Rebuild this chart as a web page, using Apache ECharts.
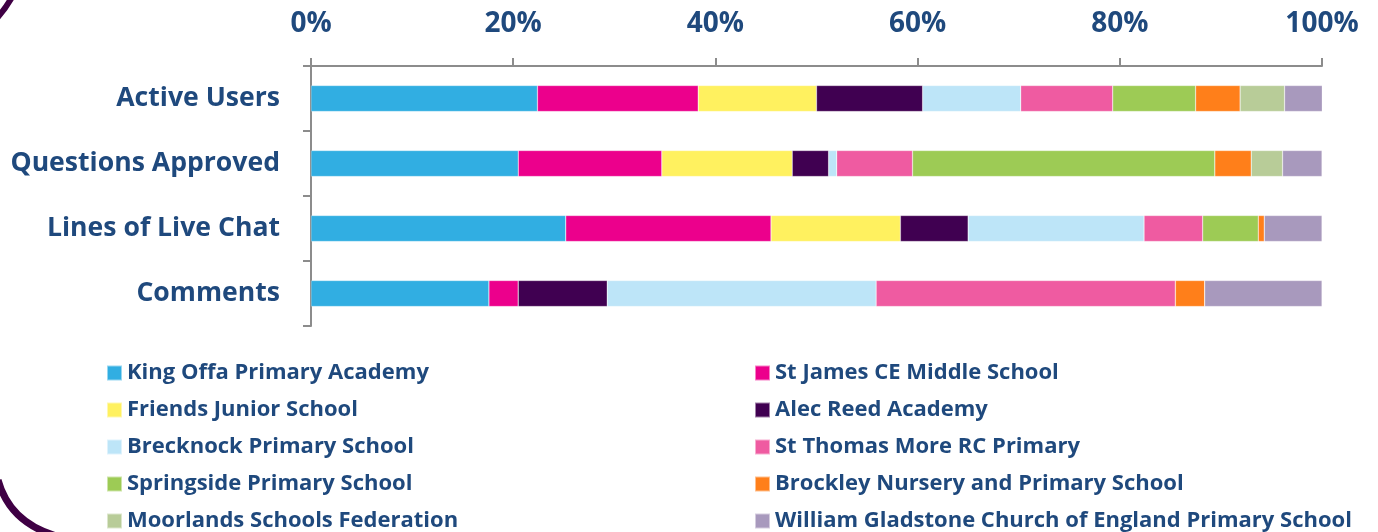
<!DOCTYPE html>
<html>
  <head>
    <meta charset="UTF-8" />
    <title>School engagement</title>
    <script src="https://cdn.jsdelivr.net/npm/echarts@6/dist/echarts.min.js"></script>
    <style>
      html, body { margin: 0; padding: 0; background: #fff; }
    </style>
  </head>
  <body>
    <div id="chart" style="width: 1378px; height: 532px"></div>
  </body>
  <script>
    // categories, top to bottom
    const categories = ['Active Users', 'Questions Approved', 'Lines of Live Chat', 'Comments'];
    const schools = [
      'King Offa Primary Academy',
      'St James CE Middle School',
      'Friends Junior School',
      'Alec Reed Academy',
      'Brecknock Primary School',
      'St Thomas More RC Primary',
      'Springside Primary School',
      'Brockley Nursery and Primary School',
      'Moorlands Schools Federation',
      'William Gladstone Church of England Primary School'
    ];
    // share (%) per category, in the order of categories
    const kingOffa      = [22.4, 20.5, 25.2, 17.6];
    const stJames       = [15.9, 14.2, 20.3, 2.9];
    const friends       = [11.7, 12.9, 12.8, 0];
    const alecReed      = [10.5, 3.6, 6.7, 8.8];
    const brecknock     = [9.7, 0.8, 17.4, 26.6];
    const stThomas      = [9.1, 7.5, 5.8, 29.6];
    const springside    = [8.2, 29.9, 5.5, 0];
    const brockley      = [4.4, 3.6, 0.6, 2.9];
    const moorlands     = [4.4, 3.1, 0, 0];
    const gladstone     = [3.8, 3.9, 5.7, 11.6];
    const seriesValues = [kingOffa, stJames, friends, alecReed, brecknock, stThomas, springside, brockley, moorlands, gladstone];
    const colors = ['#31AEE2', '#EC008C', '#FFF15F', '#400051', '#BDE5F8', '#EF5BA1', '#9DCB55', '#FF7F1A', '#B8CC98', '#A899BD'];
    const xTicks = [0, 20, 40, 60, 80, 100];

    const textColor = '#1F497D';
    const font = '"Open Sans", sans-serif';

    let chart = echarts.init(document.getElementById('chart'));

    const legendText = { color: textColor, fontWeight: 'bold', fontSize: 22, fontFamily: font, lineHeight: 22 };

    chart.setOption({
      animation: false,
      color: colors,
      textStyle: { fontFamily: font },
      grid: { left: 311, right: 56, top: 66, bottom: 206 },
      xAxis: {
        type: 'value',
        position: 'top',
        min: xTicks[0],
        max: xTicks[xTicks.length - 1],
        interval: 20,
        axisLine: { show: true, lineStyle: { color: '#8c8c8c', width: 2 } },
        axisTick: { show: true, length: 8, lineStyle: { color: '#8c8c8c', width: 2 } },
        splitLine: { show: false },
        axisLabel: {
          formatter: '{value}%',
          margin: 28,
          color: textColor,
          fontWeight: 'bold',
          fontSize: 28,
          fontFamily: font
        }
      },
      yAxis: {
        type: 'category',
        inverse: true,
        data: categories,
        axisLine: { show: true, lineStyle: { color: '#8c8c8c', width: 2 } },
        axisTick: { show: true, length: 8, lineStyle: { color: '#8c8c8c', width: 2 } },
        axisLabel: {
          margin: 31,
          color: textColor,
          fontWeight: 'bold',
          fontSize: 26.6,
          fontFamily: font,
          padding: [4, 0, 0, 0]
        }
      },
      legend: [
        {
          left: 101, top: 357, height: 180, orient: 'vertical', itemGap: 15,
          itemWidth: 15, itemHeight: 15, icon: 'rect',
          data: schools.filter((s, i) => i % 2 === 0),
          textStyle: legendText
        },
        {
          left: 749, top: 357, height: 180, orient: 'vertical', itemGap: 15,
          itemWidth: 15, itemHeight: 15, icon: 'rect',
          data: schools.filter((s, i) => i % 2 === 1),
          textStyle: legendText
        }
      ],
      graphic: [
        {
          type: 'bezierCurve',
          shape: { x1: -2, y1: 480, cpx1: 10, cpy1: 524, x2: 60, y2: 537 },
          style: { stroke: '#3F0044', lineWidth: 7, fill: null }
        },
        {
          type: 'bezierCurve',
          shape: { x1: 12, y1: -3, cpx1: 6, cpy1: 8, x2: -3, y2: 18 },
          style: { stroke: '#3F0044', lineWidth: 6, fill: null }
        }
      ],
      series: schools.map((name, i) => ({
        name: name,
        type: 'bar',
        stack: 'total',
        barWidth: 26,
        data: seriesValues[i],
        itemStyle: { borderColor: 'rgba(255,255,255,0.5)', borderWidth: 0.5 }
      }))
    });
  </script>
</html>
